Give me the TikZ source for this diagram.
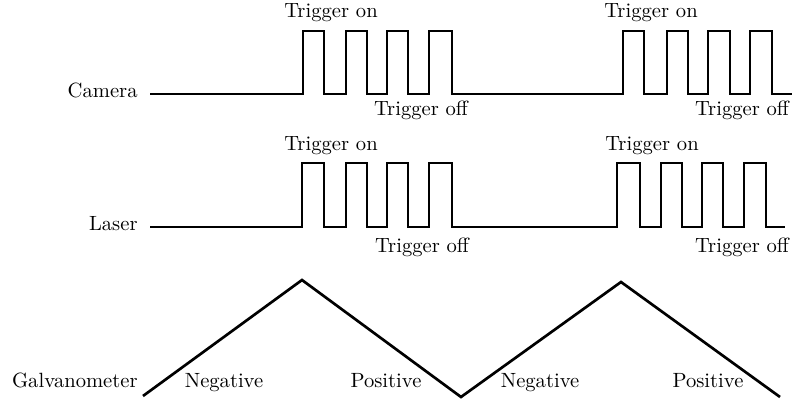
\documentclass[tikz,border=0pt]{standalone}
\begin{document}
\begin{tikzpicture}[x=0.4854pt,y=-0.4854pt,
  signal/.style={line width=1.3pt},
  lbl/.style={inner sep=0pt,anchor=base}]
\useasboundingbox (0,0) rectangle (792,405);

% Camera trigger train
\draw[signal] (150,94) -- (303,94) -- (303,31) -- (324,31) -- (324,94)
  -- (346,94) -- (346,31) -- (367,31) -- (367,94)
  -- (387,94) -- (387,31) -- (408,31) -- (408,94)
  -- (429,94) -- (429,31) -- (452,31) -- (452,94)
  -- (623,94) -- (623,31) -- (644,31) -- (644,94)
  -- (667,94) -- (667,31) -- (688,31) -- (688,94)
  -- (708,94) -- (708,31) -- (730,31) -- (730,94)
  -- (750,94) -- (750,31) -- (772,31) -- (772,94) -- (792,94);

% Laser trigger train
\draw[signal] (150,227) -- (302,227) -- (302,163) -- (324,163) -- (324,227)
  -- (346,227) -- (346,163) -- (367,163) -- (367,227)
  -- (387,227) -- (387,163) -- (408,163) -- (408,227)
  -- (429,227) -- (429,163) -- (452,163) -- (452,227)
  -- (617,227) -- (617,163) -- (640,163) -- (640,227)
  -- (661,227) -- (661,163) -- (682,163) -- (682,227)
  -- (702,227) -- (702,163) -- (723,163) -- (723,227)
  -- (744,227) -- (744,163) -- (766,163) -- (766,227) -- (785,227);

% Galvanometer triangle sweep
\draw[signal] (143,396) -- (302,280) -- (461,397) -- (621,282) -- (780,397);

% Row labels
\node[lbl,anchor=base east] (cam) at (138,98) {Camera};
\node[lbl,anchor=base east] (las) at (138,230) {Laser};
\node[lbl,anchor=base east] (gal) at (138,387) {Galvanometer};

% Trigger annotations
\node[lbl] (con1) at (331,18) {Trigger on};
\node[lbl] (con2) at (651,18) {Trigger on};
\node[lbl] (coff1) at (421,116) {Trigger off};
\node[lbl] (coff2) at (742,116) {Trigger off};
\node[lbl] (lon1) at (331,150) {Trigger on};
\node[lbl] (lon2) at (652,150) {Trigger on};
\node[lbl] (loff1) at (422,252) {Trigger off};
\node[lbl] (loff2) at (742,252) {Trigger off};

% Sweep direction labels
\node[lbl] (neg1) at (224,387) {Negative};
\node[lbl] (pos1) at (386,387) {Positive};
\node[lbl] (neg2) at (540,387) {Negative};
\node[lbl] (pos2) at (708,387) {Positive};
\end{tikzpicture}
\end{document}
